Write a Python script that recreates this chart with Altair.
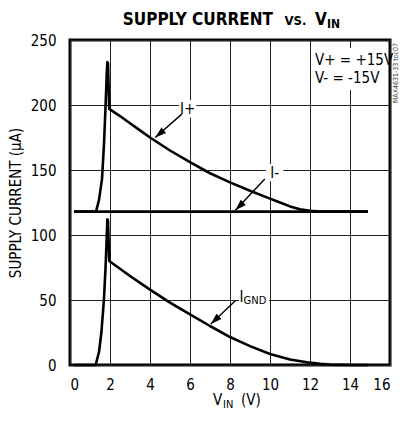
import altair as alt
import pandas as pd

FONT = "'DejaVu Sans Condensed', 'Liberation Sans', sans-serif"

# ---- data ----
x_ticks = [0, 2, 4, 6, 8, 10, 12, 14, 16]
y_ticks = [0, 50, 100, 150, 200, 250]

vin_iplus = [0.2, 1.30, 1.45, 1.60, 1.70, 1.78, 1.84, 1.87, 1.90, 1.93, 1.96,
             2.5, 3, 3.5, 4, 5, 6, 7, 8, 9, 10, 10.5, 11, 11.5, 12, 12.5, 13, 14.9]
iplus = [118, 118, 127, 143, 170, 200, 225, 233, 232, 215, 197,
         191.5, 186, 180.5, 175, 165, 156, 147.5, 140.5, 134, 128, 125, 122, 119.8,
         118.6, 118.1, 118, 118]

vin_iminus = [0.2, 14.9]
iminus = [118, 118]

vin_ignd = [0.2, 1.28, 1.45, 1.57, 1.70, 1.78, 1.84, 1.87, 1.90, 1.93, 1.96,
            2.5, 3, 4, 5, 6, 7, 8, 9, 10, 11, 12, 12.5, 13, 14, 14.9]
ignd = [0, 0, 10, 25, 51, 76, 100, 112, 111, 95, 80,
        74, 68.5, 58, 48, 39, 30, 21.5, 14.5, 8.5, 4.3, 1.8, 0.9, 0.3, 0, 0]

# annotation arrows: start (vin, i) -> tip (vin2, i2), head angle
arrow_names = ["I+", "I-", "IGND"]
arrow_x1 = [5.59, 9.74, 8.27]
arrow_y1 = [193, 143, 49.5]
arrow_x2 = [4.26, 8.27, 7.04]
arrow_y2 = [175, 119, 31.5]
arrow_angle = [230, 225, 227]

rows = []
for name, xs, ys in [("I+", vin_iplus, iplus), ("I-", vin_iminus, iminus),
                     ("IGND", vin_ignd, ignd)]:
    for k, (a, b) in enumerate(zip(xs, ys)):
        rows.append({"series": name, "vin": a, "i": b, "order": k})
df = pd.DataFrame(rows)

arrows = pd.DataFrame({"name": arrow_names, "vin": arrow_x1, "i": arrow_y1,
                       "vin2": arrow_x2, "i2": arrow_y2})
heads_df = pd.DataFrame({"name": arrow_names, "vin": arrow_x2, "i": arrow_y2,
                         "ang": arrow_angle})

xscale = alt.Scale(domain=[0, 16], nice=False, zero=False)
yscale = alt.Scale(domain=[0, 250], nice=False)

X = alt.X("vin:Q", scale=xscale,
          axis=alt.Axis(values=x_ticks, grid=True, gridColor="#222", gridWidth=1,
                        domain=False, ticks=False, labelFont=FONT, labelFontSize=15,
                        labelColor="black", labelPadding=12, title=None))
Y = alt.Y("i:Q", scale=yscale,
          axis=alt.Axis(values=y_ticks, grid=True, gridColor="#222", gridWidth=1,
                        domain=False, ticks=False, labelFont=FONT, labelFontSize=15,
                        labelColor="black", labelPadding=14,
                        title="SUPPLY CURRENT (μA)", titleFont=FONT, titleFontSize=15,
                        titleFontWeight="normal", titleColor="black",
                        titleX=-55, titleBaseline="middle"))

lines = alt.Chart(df).mark_line(color="black", strokeWidth=2.6, strokeJoin="round").encode(
    x=X, y=Y, detail="series:N", order="order:Q")

arrow_lines = alt.Chart(arrows).mark_rule(color="black", strokeWidth=1.4).encode(
    x=X, y=Y, x2="vin2:Q", y2="i2:Q")

heads = alt.Chart(heads_df).mark_point(
    shape="M0,0L-0.32,1L0.32,1Z", filled=True, color="black", opacity=1, size=500
).encode(x=X, y=Y, angle=alt.Angle("ang:Q", scale=None))

# curve labels (data coordinates) with white boxes
lab_iplus = pd.DataFrame({"vin": [5.88], "i": [197], "t": ["I+"]})
lab_iminus = pd.DataFrame({"vin": [10.23], "i": [148], "t": ["I-"]})
lab_ignd_box = pd.DataFrame({"vin": [9.2], "i": [51], "t": [""]})
lab_ignd_I = pd.DataFrame({"vin": [8.48], "i": [52.3], "t": ["I"]})
lab_ignd_sub = pd.DataFrame({"vin": [8.68], "i": [49.5], "t": ["GND"]})

def box(d, shape, size):
    return alt.Chart(d).mark_point(shape=shape, filled=True, color="white",
                                   opacity=1, size=size).encode(x=X, y=Y)

def txt(d, fs, align="center"):
    return alt.Chart(d).mark_text(font=FONT, fontSize=fs, color="black", align=align,
                                  baseline="middle").encode(x=X, y=Y, text="t:N")

boxes = (box(lab_iplus, "M-1,-1H1V1H-1Z", 300)
         + box(lab_iminus, "M-1,-1H1V1H-1Z", 300)
         + box(lab_ignd_box, "M-3,-1H3V1H-3Z", 100))
labels = (txt(lab_iplus, 15) + txt(lab_iminus, 15)
          + txt(lab_ignd_I, 15, "left") + txt(lab_ignd_sub, 11, "left"))

# white box behind the supply-condition note
cond_box = alt.Chart(pd.DataFrame({"k": [0]})).mark_rect(color="white").encode(
    x=alt.value(241), x2=alt.value(315), y=alt.value(8), y2=alt.value(50))

# fixed texts (pixel positions relative to plot origin)
def ptext(t, x, y, fs, align="left", weight="normal", baseline="alphabetic",
          angle=0, color="black"):
    return alt.Chart(pd.DataFrame({"t": [t]})).mark_text(
        font=FONT, fontSize=fs, fontWeight=weight, align=align, baseline=baseline,
        angle=angle, color=color
    ).encode(x=alt.value(x), y=alt.value(y), text="t:N")

title = (ptext("SUPPLY CURRENT", 203, -15, 17, "right", "bold")
         + ptext("VS.", 225.5, -15, 13, "center", "bold")
         + ptext("V", 245, -15, 17, "left", "bold")
         + ptext("IN", 257, -12, 12, "left", "bold"))

xtitle = (ptext("V", 143, 365, 15)
          + ptext("IN", 153, 368, 11)
          + ptext("(V)", 171, 365, 15))

cond = (ptext("V+ = +15V", 245, 20, 15, baseline="middle")
        + ptext("V- = -15V", 245, 38, 15, baseline="middle"))

code = ptext("MAX4631-33 toc07", 326, 33, 7, "center", baseline="middle",
             angle=270, color="#444")

chart = alt.layer(
    lines, boxes, cond_box, arrow_lines, heads, labels, title, xtitle, cond, code
).properties(
    width=320, height=325,
    autosize=alt.AutoSizeParams(type="none"),
    padding={"left": 62, "top": 32, "right": 10, "bottom": 47},
).configure_view(stroke="black", strokeWidth=3)

chart.save("out.html", embed_options={"renderer": "svg", "actions": False})
